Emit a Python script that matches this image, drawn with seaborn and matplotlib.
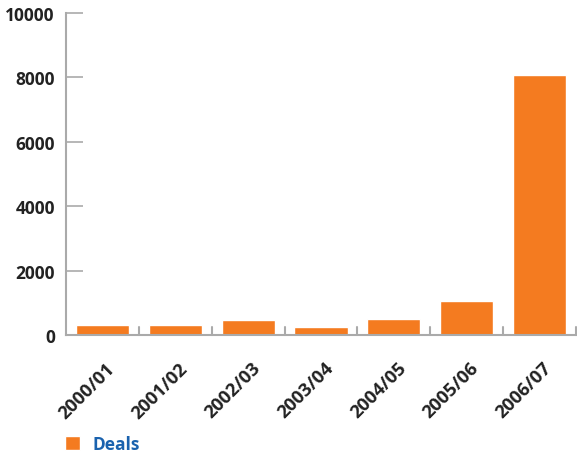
import matplotlib
matplotlib.use("Agg")
import matplotlib.pyplot as plt
import matplotlib.transforms as mtransforms
import seaborn as sns
import pandas as pd

periods = ["2000/01", "2001/02", "2002/03", "2003/04", "2004/05", "2005/06", "2006/07"]
deals = [320, 320, 470, 260, 500, 1060, 8080]
y_ticks = [0, 2000, 4000, 6000, 8000, 10000]

sns.set_theme(style="white")
plt.rcParams["font.family"] = ["Open Sans", "DejaVu Sans"]

W, H = 577, 456
FS = 12.5
fig = plt.figure(figsize=(W / 100, H / 100), dpi=100)
ax = fig.add_axes([66 / W, 1 - 336 / H, (576 - 66) / W, (336 - 14) / H])

df = pd.DataFrame({"Period": periods, "Deals": deals})
sns.barplot(data=df, x="Period", y="Deals", color="#F47B20", saturation=1,
            width=0.73, label="Deals", ax=ax)

ax.set_ylim(0, 10000)
ax.set_xlim(-0.5, len(periods) - 0.5)
ax.set_yticks(y_ticks)
ax.set_yticklabels([str(v) for v in y_ticks], fontsize=FS, fontweight="bold", color="#222222")
ax.set_xlabel("")
ax.set_ylabel("")

# category labels rotated under each bar
ax.set_xticks(range(len(periods)))
ax.set_xticklabels(periods, rotation=45, ha="right", rotation_mode="anchor",
                   fontsize=13.2, fontweight="bold", color="#222222")
ax.tick_params(axis="x", length=0, pad=17)
ax.tick_params(axis="y", direction="in", length=12, width=1.2, color="#AAAAAA", pad=8, left=True)
shift = mtransforms.ScaledTranslation(3 / 100, 0, fig.dpi_scale_trans)
for lbl in ax.get_xticklabels():
    lbl.set_transform(lbl.get_transform() + shift)

# separators between categories along the baseline
for b in range(1, len(periods) + 1):
    ax.plot([b - 0.5, b - 0.5], [0, 250], color="#AAAAAA", lw=1.5, clip_on=False, zorder=0)

for side in ["top", "right"]:
    ax.spines[side].set_visible(False)
for side in ["left", "bottom"]:
    ax.spines[side].set_color("#AAAAAA")
    ax.spines[side].set_linewidth(1.5)

fs_px = FS * 100 / 72
leg = ax.legend(loc="center left", bbox_to_anchor=(65 / W, 1 - 445 / H),
                bbox_transform=fig.transFigure, frameon=False,
                borderpad=0, borderaxespad=0,
                handlelength=15 / fs_px, handleheight=14 / fs_px, handletextpad=13 / fs_px,
                prop={"weight": "bold", "size": FS})
for t in leg.get_texts():
    t.set_color("#1A62AE")

fig.savefig("out.png", dpi=100)
